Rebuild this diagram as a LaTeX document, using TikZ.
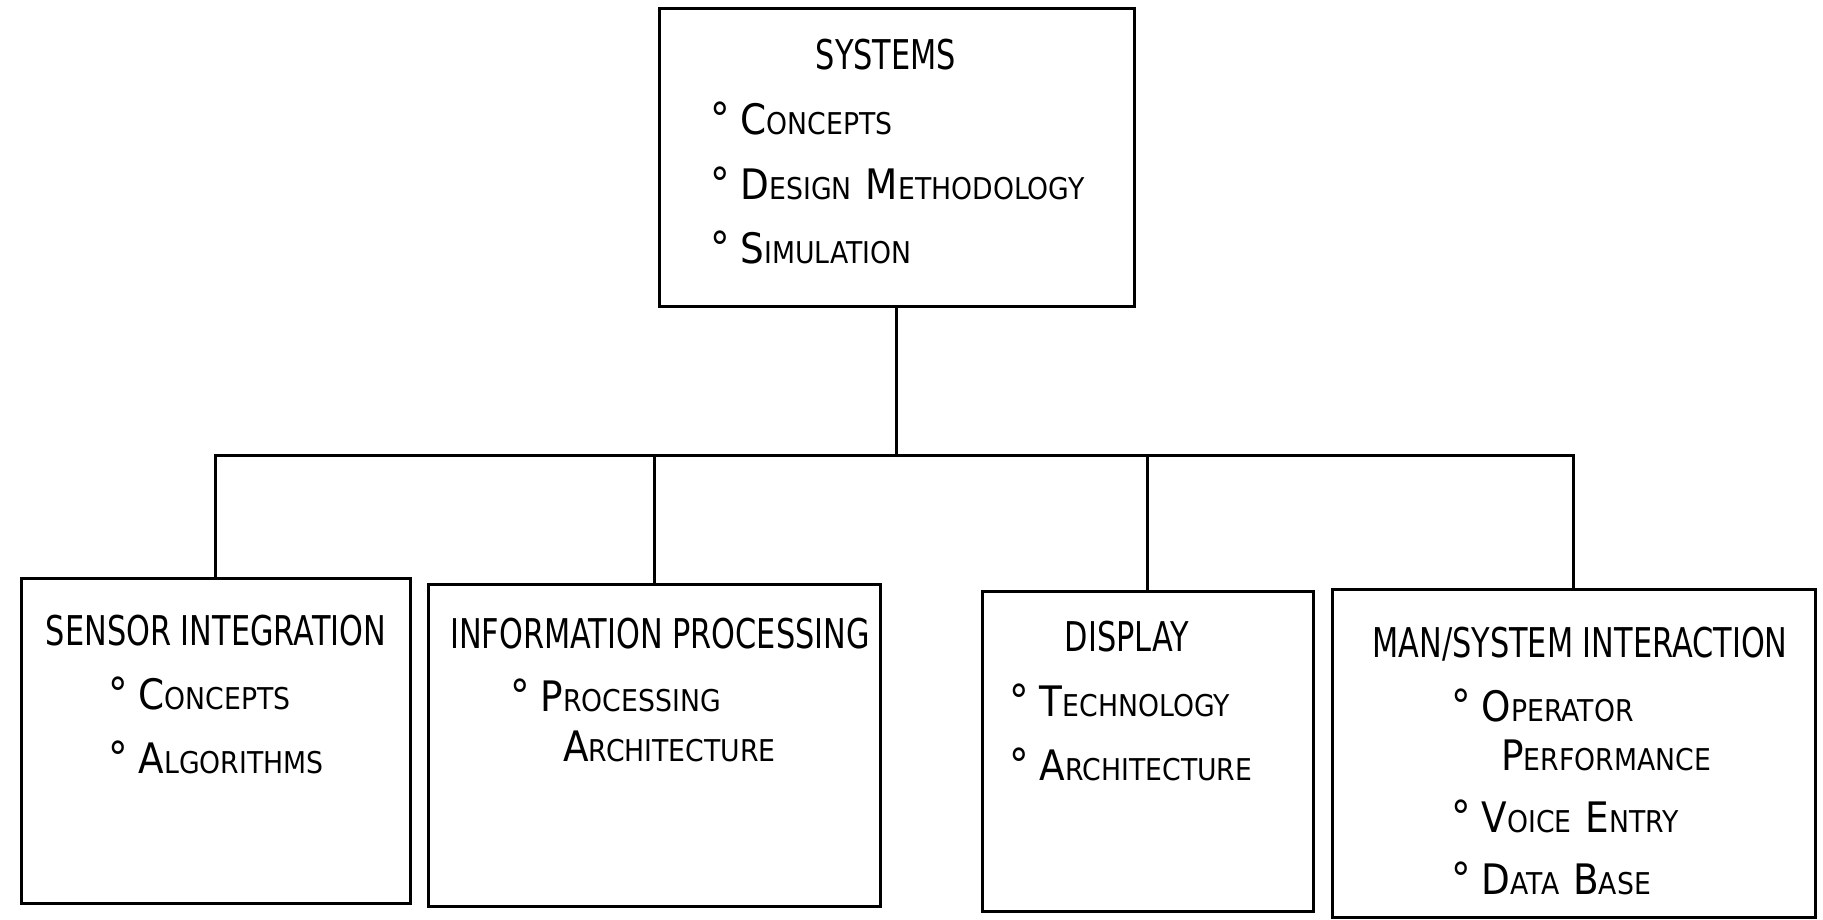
\documentclass[tikz,border=0pt]{standalone}
\usepackage{fontspec}
\newfontfamily\titlefont[FakeStretch=0.74]{DejaVu Sans}
\newfontfamily\itemfont[FakeStretch=0.89]{DejaVu Sans}
% small caps by hand: big first letter, smaller rest
\newcommand\scw[2]{{\fontsize{42}{42}\selectfont #1}{\fontsize{30}{30}\selectfont #2}}
\newcommand\dg{{\fontsize{44}{44}\selectfont °}\hspace{11pt}}
\begin{document}
\begin{tikzpicture}[
  x=1pt, y=-1pt,
  box/.style={rectangle, draw, line width=3pt, inner sep=0pt},
  title/.style={anchor=base, inner sep=0pt, font=\titlefont\fontsize{41}{41}\selectfont},
  entry/.style={anchor=base west, inner sep=0pt, font=\itemfont\fontsize{30}{30}\selectfont},
  link/.style={draw, line width=3pt}
]
\useasboundingbox (0,0) rectangle (1823,920);
% boxes
\node[box, minimum width=475pt, minimum height=297pt] (systems) at (896.5,157.5) {};
\node[box, minimum width=389pt, minimum height=325pt] (sensor) at (215.5,740.5) {};
\node[box, minimum width=452pt, minimum height=322pt] (info) at (654,745) {};
\node[box, minimum width=331pt, minimum height=320pt] (display) at (1147.5,751) {};
\node[box, minimum width=483pt, minimum height=328pt] (man) at (1573.5,753) {};
% texts
\node[title] (sysT) at (886,70) {SYSTEMS};
\node[entry] (sys1) at (710,135) {\dg\scw{C}{ONCEPTS}};
\node[entry] (sys2) at (710,200) {\dg\scw{D}{ESIGN}\hspace{14pt}\scw{M}{ETHODOLOGY}};
\node[entry] (sys3) at (710,263) {\dg\scw{S}{IMULATION}};
\node[title] (senT) at (216,645) {SENSOR INTEGRATION};
\node[entry] (sen1) at (108,709) {\dg\scw{C}{ONCEPTS}};
\node[entry] (sen2) at (108,773) {\dg\scw{A}{LGORITHMS}};
\node[title] (infT) at (660,648) {INFORMATION PROCESSING};
\node[entry] (inf1) at (510,711) {\dg\scw{P}{ROCESSING}};
\node[entry] (inf1b) at (563,761) {\scw{A}{RCHITECTURE}};
\node[title] (disT) at (1127,651) {DISPLAY};
\node[entry] (dis1) at (1009,716) {\dg\scw{T}{ECHNOLOGY}};
\node[entry] (dis2) at (1009,780) {\dg\scw{A}{RCHITECTURE}};
\node[title] (manT) at (1580,657) {MAN/SYSTEM INTERACTION};
\node[entry] (man1) at (1451,721) {\dg\scw{O}{PERATOR}};
\node[entry] (man1b) at (1501,770) {\scw{P}{ERFORMANCE}};
\node[entry] (man2) at (1451,832) {\dg\scw{V}{OICE}\hspace{14pt}\scw{E}{NTRY}};
\node[entry] (man3) at (1451,894) {\dg\scw{D}{ATA}\hspace{14pt}\scw{B}{ASE}};
% connectors
\coordinate (hub) at (896.5,455);
\draw[link] (systems.south) -- (hub);
\draw[link] (sensor.north) |- (hub) -| (man.north);
\draw[link] (info.north) -- (info.north |- hub);
\draw[link] (display.north) -- (display.north |- hub);
\end{tikzpicture}
\end{document}
